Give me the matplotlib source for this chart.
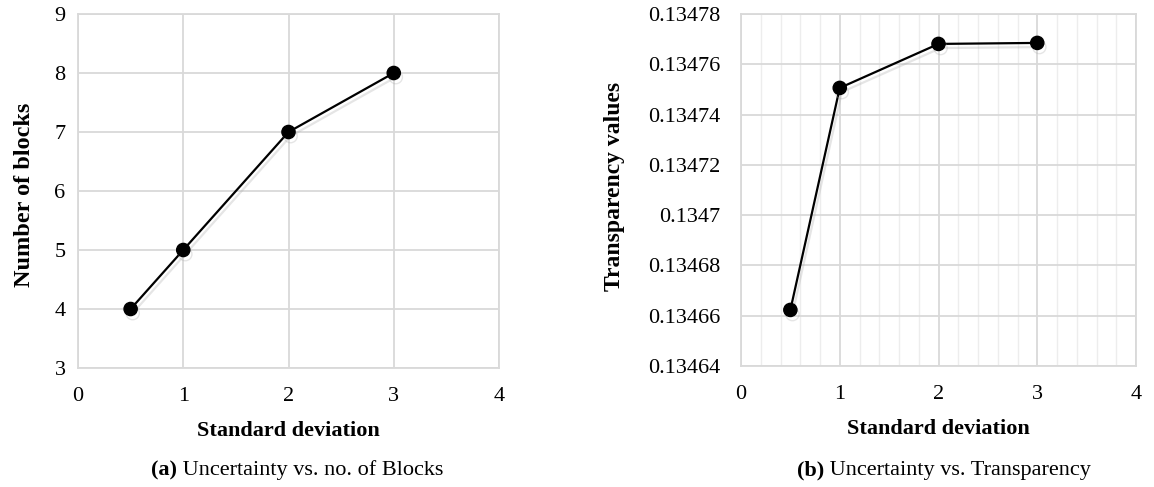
import numpy as np
import matplotlib
matplotlib.use('Agg')
import matplotlib.pyplot as plt
import matplotlib.patheffects as pe
from matplotlib.ticker import MultipleLocator, FixedLocator

plt.rcParams['font.family'] = ['Liberation Serif', 'DejaVu Serif']

std_dev = [0.5, 1, 2, 3]
n_blocks = [4, 5, 7, 8]
transparency = [0.1346623, 0.1347506, 0.1347681, 0.1347685]
transp_ticks = [0.13464, 0.13466, 0.13468, 0.1347, 0.13472, 0.13474, 0.13476, 0.13478]
transp_labels = ['0.13464', '0.13466', '0.13468', '0.1347', '0.13472', '0.13474', '0.13476', '0.13478']

grid_col = '#d9d9d9'
shadow = [pe.SimpleLineShadow(offset=(1.5, -3), shadow_color='#aaaaaa', alpha=0.3), pe.Normal()]
FS = 16

fig = plt.figure(figsize=(11.54, 4.87), dpi=100)
ax1 = fig.add_axes([78/1154, 1-368/487, 421/1154, 354/487])
ax2 = fig.add_axes([741/1154, 1-366/487, 395/1154, 352/487])

def style(ax, ypad):
    for s in ax.spines.values():
        s.set_color(grid_col)
        s.set_linewidth(1.3)
    ax.tick_params(axis='x', length=0, labelsize=FS, pad=14)
    ax.tick_params(axis='y', length=0, labelsize=FS, pad=ypad)
    ax.set_axisbelow(True)
    ax.set_xlim(0, 4)
    ax.xaxis.set_major_locator(MultipleLocator(1))
    ax.grid(True, which='major', color=grid_col, linewidth=1.3)
    ax.set_xlabel('Standard deviation', fontsize=FS, fontweight='bold')
    ax.xaxis.set_label_coords(0.5, -0.15)

# (a)
ax1.plot(std_dev, n_blocks, '-o', color='black', lw=1.6, markersize=9.5, path_effects=shadow)
style(ax1, 9)
ax1.set_ylim(3, 9)
ax1.yaxis.set_major_locator(MultipleLocator(1))
ax1.set_ylabel('Number of blocks', fontsize=17.5, fontweight='bold')
ax1.yaxis.set_label_coords(-0.101, 0.49)

# (b)
ax2.plot(std_dev, transparency, '-o', color='black', lw=1.6, markersize=9.5, path_effects=shadow)
style(ax2, 15)
ax2.set_ylim(0.13464, 0.13478)
ax2.yaxis.set_major_locator(FixedLocator(transp_ticks))
ax2.set_yticklabels(transp_labels)
ax2.xaxis.set_minor_locator(MultipleLocator(0.2))
ax2.grid(True, which='minor', axis='x', color='#ededed', linewidth=1.0)
ax2.tick_params(which='minor', length=0)
ax2.set_ylabel('Transparency values', fontsize=17, fontweight='bold')
ax2.yaxis.set_label_coords(-0.293, 0.51)

def caption(xc, bold, rest):
    y = 1 - 470/487
    fig.canvas.draw()
    r = fig.canvas.get_renderer()
    t1 = fig.text(0, y, bold, fontsize=FS, fontweight='bold', ha='left', va='center')
    t2 = fig.text(0, y, ' ' + rest, fontsize=FS, ha='left', va='center')
    w1 = t1.get_window_extent(r).width
    w2 = t2.get_window_extent(r).width
    x0 = xc - (w1 + w2) / 2
    t1.set_x(x0/1154)
    t2.set_x((x0 + w1)/1154)

caption(297, '(a)', 'Uncertainty vs. no. of Blocks')
caption(944, '(b)', 'Uncertainty vs. Transparency')

fig.savefig('out.png', dpi=100)
